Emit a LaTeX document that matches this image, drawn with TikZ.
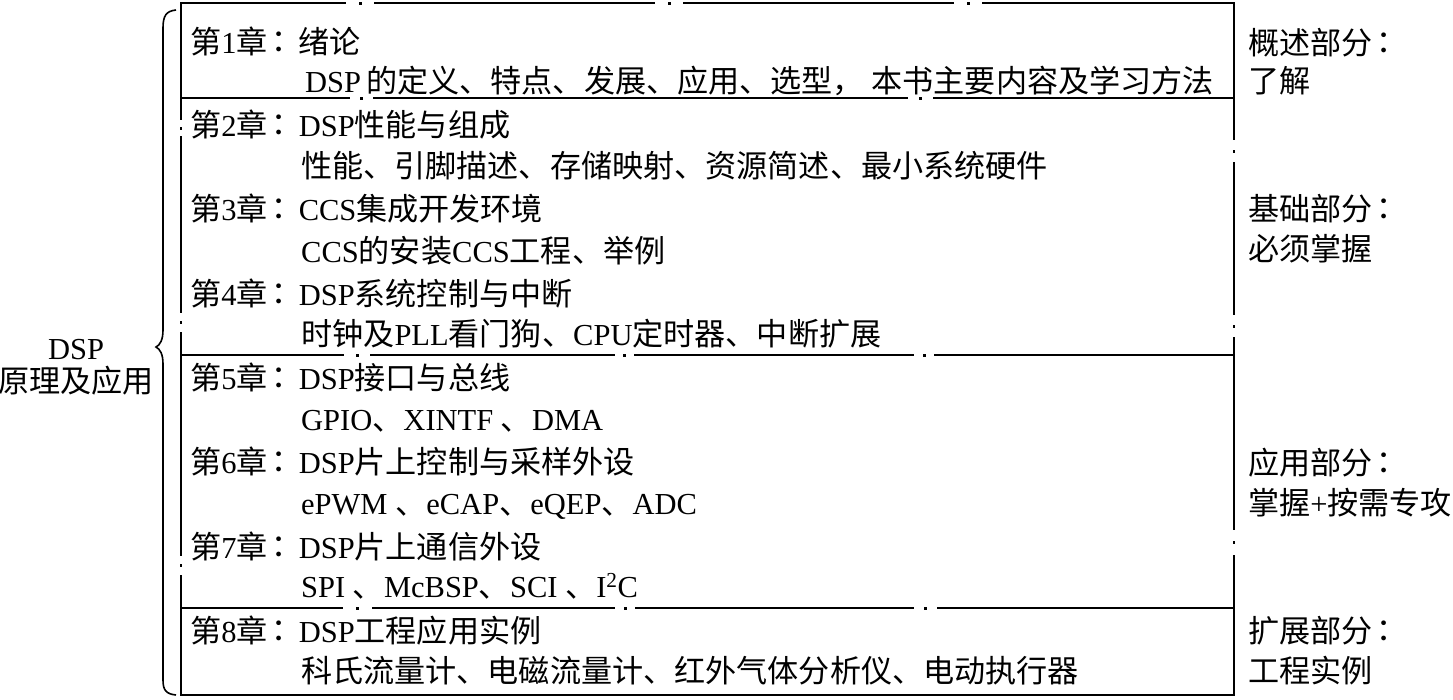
\documentclass[tikz,border=0pt]{standalone}
\usepackage{fontspec}
\setmainfont{Liberation Serif}
\newfontfamily\cjkfont[Scale=1.02]{Noto Sans CJK SC}
\newfontfamily\cjktcfont[Scale=1.02]{Noto Sans CJK TC}
\newcommand\zh[1]{{\cjkfont #1}}
\newcommand\zcolon{{\kern-4pt\cjktcfont ：\kern4pt}}
\newcommand\hgap[3]{\fill[white] (#1,#3-3) rectangle (#2,#3+3);
  \fill[black] ({(#1+#2)/2-1.5},#3-1) rectangle ({(#1+#2)/2+1.5},#3+2);}
\newcommand\vgap[3]{\fill[white] (#1-3,#2) rectangle (#1+3,#3);
  \fill[black] (#1-1,{(#2+#3)/2-1.5}) rectangle (#1+1,{(#2+#3)/2+1.5});}
\begin{document}
\begin{tikzpicture}[x=1pt,y=-1pt,
  txt/.style={anchor=base west,inner sep=0pt,font=\fontsize{30.5}{30.5}\selectfont},
  frame/.style={line width=1.8pt}]
\useasboundingbox (0,0) rectangle (1453,699);
% frame and dividers
\draw[frame] (181,3) rectangle (1234,695);
\coordinate (d1l) at (181,98);  \coordinate (d1r) at (1234,98);
\coordinate (d2l) at (181,355); \coordinate (d2r) at (1234,355);
\coordinate (d3l) at (181,608); \coordinate (d3r) at (1234,608);
\draw[frame] (d1l) -- (d1r);
\draw[frame] (d2l) -- (d2r);
\draw[frame] (d3l) -- (d3r);
% small breaks in the rules
\hgap{346}{374}{3} \hgap{655}{683}{3} \hgap{954}{982}{3}
\hgap{350}{373}{98} \hgap{908}{933}{98}
\hgap{344}{370}{355} \hgap{615}{634}{355} \hgap{914}{934}{355}
\hgap{343}{372}{608} \hgap{615}{635}{608} \hgap{914}{937}{608}
\vgap{181}{120}{136} \vgap{181}{313}{332} \vgap{181}{556}{575}
\vgap{1234}{140}{162} \vgap{1234}{315}{337} \vgap{1234}{530}{555}
% brace
\draw[line width=1.6pt] (176,10) .. controls (166,11) and (163,16) .. (163,28)
  -- (163,330) .. controls (163,340) and (160,345) .. (156,347)
  .. controls (160,349) and (163,354) .. (163,364)
  -- (163,680) .. controls (163,690) and (166,694) .. (176,695);
% left label
\node[inner sep=0pt,align=center,font=\fontsize{30.5}{33}\selectfont] (root) at (76,367) {DSP\\\zh{原理及应用}};
% chapter rows
\node[txt] (c1) at (190,53) {\zh{第}1\zh{章}\zcolon\zh{绪论}};
\node[txt] (s1) at (305,92) {DSP\,\zh{的定义、特点、发展、应用、选型，}\ \zh{本书主要内容及学习方法}};
\node[txt] (c2) at (190,136) {\zh{第}2\zh{章}\zcolon DSP\zh{性能与组成}};
\node[txt] (s2) at (301,177) {\zh{性能、引脚描述、存储映射、资源简述、最小系统硬件}};
\node[txt] (c3) at (190,220) {\zh{第}3\zh{章}\zcolon CCS\zh{集成开发环境}};
\node[txt] (s3) at (301,262) {CCS\zh{的安装}CCS\zh{工程、举例}};
\node[txt] (c4) at (190,305) {\zh{第}4\zh{章}\zcolon DSP\zh{系统控制与中断}};
\node[txt] (s4) at (301,345) {\zh{时钟及}PLL\zh{看门狗、}CPU\zh{定时器、中断扩展}};
\node[txt] (c5) at (190,389) {\zh{第}5\zh{章}\zcolon DSP\zh{接口与总线}};
\node[txt] (s5) at (301,430) {GPIO\zh{、}XINTF \zh{、}DMA};
\node[txt] (c6) at (190,473) {\zh{第}6\zh{章}\zcolon DSP\zh{片上控制与采样外设}};
\node[txt] (s6) at (301,514) {ePWM \zh{、}eCAP\zh{、}eQEP\zh{、}ADC};
\node[txt] (c7) at (190,558) {\zh{第}7\zh{章}\zcolon DSP\zh{片上通信外设}};
\node[txt] (s7) at (301,597) {SPI \zh{、}McBSP\zh{、}SCI \zh{、}I\textsuperscript{2}C};
\node[txt] (c8) at (190,642) {\zh{第}8\zh{章}\zcolon DSP\zh{工程应用实例}};
\node[txt] (s8) at (301,682) {\zh{科氏流量计、电磁流量计、红外气体分析仪、电动执行器}};
% right labels
\node[txt] (r1a) at (1248,54) {\zh{概述部分}\zcolon};
\node[txt] (r1b) at (1248,92) {\zh{了解}};
\node[txt] (r2a) at (1248,220) {\zh{基础部分}\zcolon};
\node[txt] (r2b) at (1248,260) {\zh{必须掌握}};
\node[txt] (r3a) at (1248,474) {\zh{应用部分}\zcolon};
\node[txt] (r3b) at (1248,514) {\zh{掌握}+\zh{按需专攻}};
\node[txt] (r4a) at (1248,642) {\zh{扩展部分}\zcolon};
\node[txt] (r4b) at (1248,682) {\zh{工程实例}};
\end{tikzpicture}
\end{document}
